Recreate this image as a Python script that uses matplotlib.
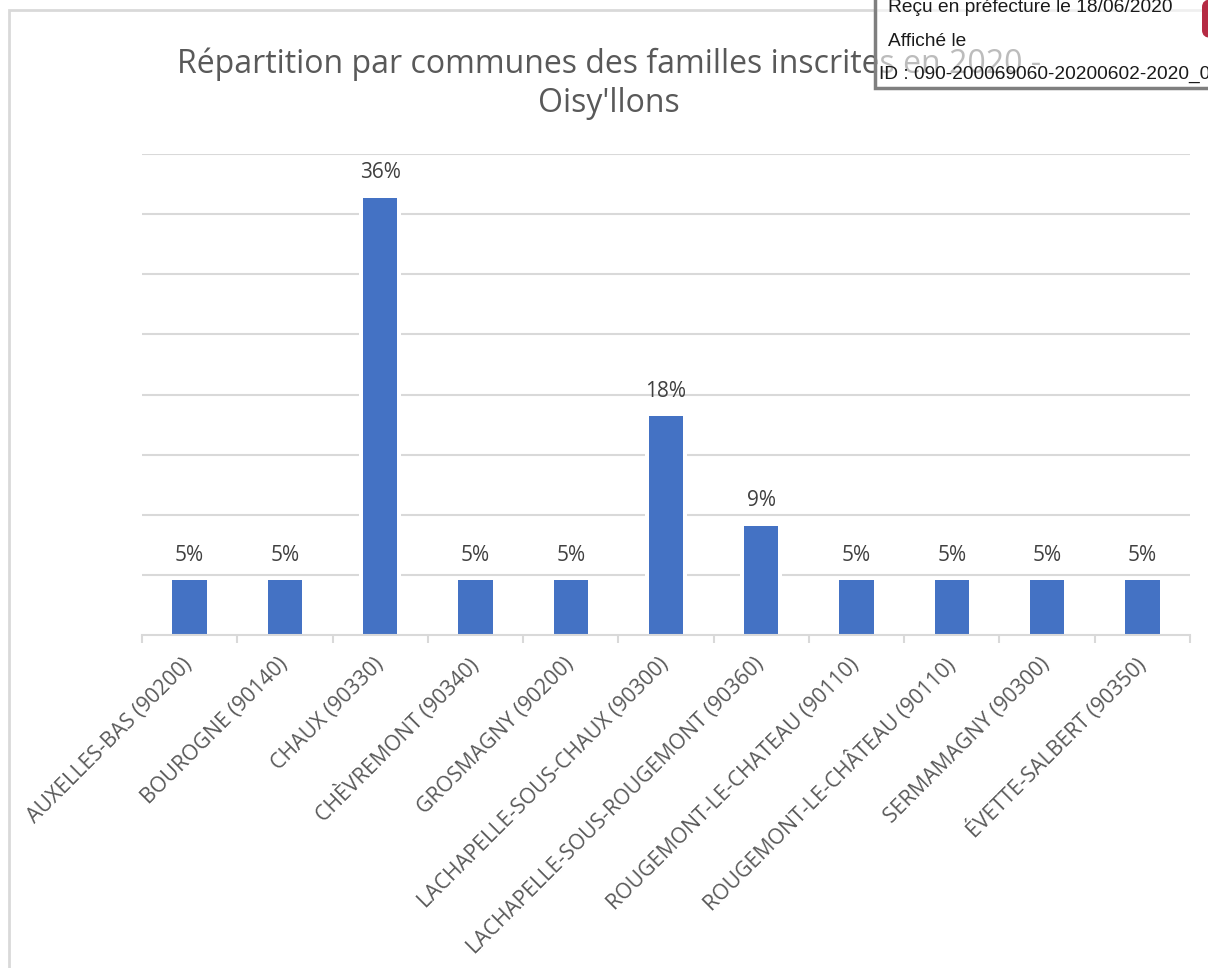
import matplotlib.pyplot as plt
from matplotlib.patches import Rectangle, FancyBboxPatch
from matplotlib.ticker import FixedLocator

# Data: families registered per commune (counts out of the total)
communes = [
    "AUXELLES-BAS (90200)",
    "BOUROGNE (90140)",
    "CHAUX (90330)",
    "CHÈVREMONT (90340)",
    "GROSMAGNY (90200)",
    "LACHAPELLE-SOUS-CHAUX (90300)",
    "LACHAPELLE-SOUS-ROUGEMONT (90360)",
    "ROUGEMONT-LE-CHATEAU (90110)",
    "ROUGEMONT-LE-CHÂTEAU (90110)",
    "SERMAMAGNY (90300)",
    "ÉVETTE-SALBERT (90350)",
]
familles = [1, 1, 8, 1, 1, 4, 2, 1, 1, 1, 1]
total = sum(familles)
parts = [f / total for f in familles]

title_lines = ["Répartition par communes des familles inscrites en 2020 -",
               "Oisy'llons"]
stamp_lines = ["Reçu en préfecture le 18/06/2020", "Affiché le",
               "ID : 090-200069060-20200602-2020_0"]

bar_color = "#4472C4"
grid_color = "#D9D9D9"
text_color = "#595959"
label_color = "#404040"

plt.rcParams['font.family'] = ['Open Sans', 'DejaVu Sans']

W, H = 1208, 968
fig = plt.figure(figsize=(W / 100, H / 100), dpi=100)

def px(x0, y0, x1, y1):
    # figure fraction box from pixel coords (origin top-left)
    return [x0 / W, 1 - y1 / H, (x1 - x0) / W, (y1 - y0) / H]

# chart area border
fig.patches.append(Rectangle((9 / W, -0.05), 1.1, 1 - 10 / H + 0.05,
                             transform=fig.transFigure, fill=False,
                             ec=grid_color, lw=2, zorder=0))

ax = fig.add_axes(px(142, 154, 1190, 635))
x = list(range(len(communes)))

# white halo behind the bars cuts the gridlines like the spreadsheet renderer
ax.bar(x, parts, width=0.44, color="white", zorder=2)
ax.bar(x, parts, width=0.36, color=bar_color, zorder=3)

for xi, p in zip(x, parts):
    ax.annotate(f"{p:.0%}", (xi, p), xytext=(0, 14), textcoords="offset points",
                ha="center", va="baseline", fontsize=15, color=label_color,
                zorder=4)

ax.set_xlim(-0.5, len(communes) - 0.5)
ax.set_ylim(0, 0.40)
ax.set_yticks([i * 0.05 for i in range(1, 9)])
ax.yaxis.grid(True, color=grid_color, lw=1.5, zorder=1)
ax.tick_params(axis="y", length=0, labelleft=False)
for s in ["left", "right", "top"]:
    ax.spines[s].set_visible(False)
ax.spines["bottom"].set_color(grid_color)
ax.spines["bottom"].set_linewidth(1.5)
ax.spines["bottom"].set_zorder(5)

ax.set_xticks(x)
ax.set_xticklabels(communes)
ax.xaxis.set_minor_locator(FixedLocator([i - 0.5 for i in range(len(communes) + 1)]))
ax.tick_params(axis="x", which="major", length=0, pad=19, labelsize=15.3,
               labelcolor=text_color)
ax.tick_params(axis="x", which="minor", length=6, width=1.5, color=grid_color)
for lbl in ax.get_xticklabels():
    lbl.set_rotation(45)
    lbl.set_rotation_mode("anchor")
    lbl.set_ha("right")
    lbl.set_va("center")

for ty, s in zip([73, 112], title_lines):
    fig.text(609 / W, 1 - ty / H, s, ha="center", va="baseline", fontsize=23,
             color=text_color)

# prefecture stamp on top
fig.patches.append(Rectangle((875 / W, 1 - 88 / H), 0.4, 0.2,
                             transform=fig.transFigure, fc=(1, 1, 1, 0.6),
                             ec="#7F7F7F", lw=2.5, zorder=10))
fig.patches.append(FancyBboxPatch((1202 / W, 1 - 38 / H), 0.02, 0.04,
                                  boxstyle="round,pad=0,rounding_size=0.008",
                                  transform=fig.transFigure, fc="#B52B44",
                                  ec="none", zorder=11))
for (tx, ty), s in zip([(888, 12), (888, 46), (879, 79)], stamp_lines):
    fig.text(tx / W, 1 - ty / H, s, ha="left", va="baseline", fontsize=13.8,
             family="Liberation Sans", color="#1A1A1A", zorder=12)

fig.savefig("out.png", dpi=100)
